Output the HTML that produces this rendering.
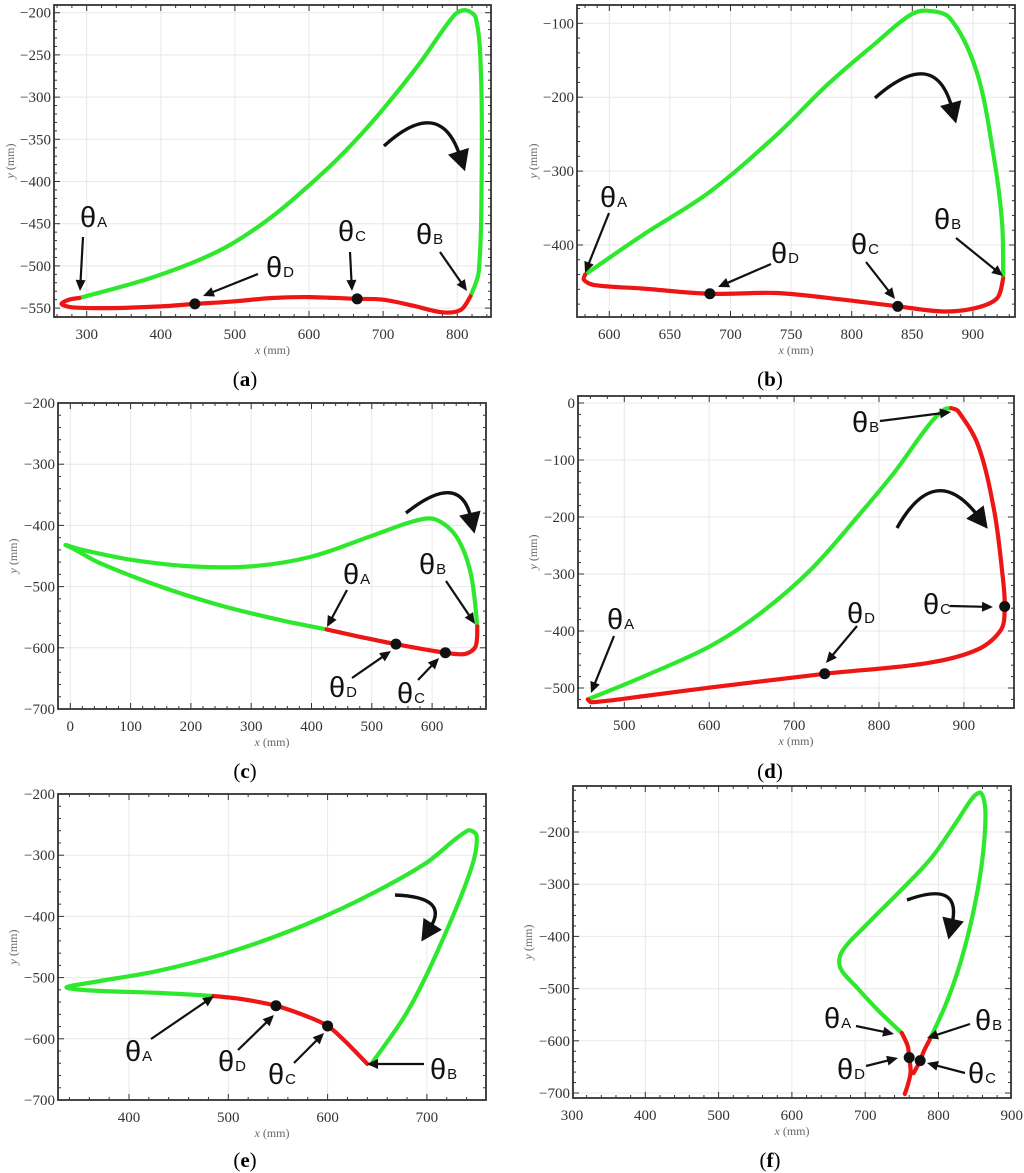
<!DOCTYPE html>
<html><head><meta charset="utf-8"><style>
html,body{margin:0;padding:0;background:#fff;}
svg{display:block;}
.tick{font-family:"Liberation Serif",serif;font-size:15px;fill:#333;}
.atitle{font-family:"Liberation Serif",serif;font-size:12px;fill:#666;}
.cap{font-family:"Liberation Serif",serif;font-size:21px;fill:#000;}
.th{font-family:"Liberation Sans",sans-serif;font-size:29px;fill:#111;}
.sub{font-family:"Liberation Sans",sans-serif;font-size:15px;fill:#111;}
</style></head><body>
<svg id="fig" width="1024" height="1173" viewBox="0 0 1024 1173" xmlns="http://www.w3.org/2000/svg"></svg>
<script>
// ---- Panel (a) data ----
const aGreenX=[290,391,481,548,616,661,705,751,796,811,825,832,833,829,818];
const aGreenY=[-538,-513,-481,-443,-392,-353,-309,-258,-203,-197,-206,-270,-388,-507,-536];
const aRedX=[818,805,780,740,700,665,600,550,500,446,400,330,280,266,276,290];
const aRedY=[-536,-552,-555,-547,-540,-539,-537,-538,-542,-545,-548,-550,-549,-545,-540,-538];
const aDotX=[446,665]; const aDotY=[-545,-539];
const aXTicks=[300,400,500,600,700,800];
const aYTicks=[-200,-250,-300,-350,-400,-450,-500,-550];
// ---- Panel (b) data ----
const bGreenX=[580,628,683,738,780,821,848,862,881,903,917,924,925];
const bGreenY=[-440,-386,-328,-251,-183,-125,-89,-83,-93,-165,-278,-368,-443];
const bRedX=[925,920,903,876,838,793,738,683,628,587,579,580];
const bRedY=[-445,-472,-485,-490,-483,-474,-465,-466,-459,-454,-447,-440];
const bDotX=[683,838]; const bDotY=[-466,-483];
const bXTicks=[600,650,700,750,800,850,900];
const bYTicks=[-100,-200,-300,-400];
// ---- Panel (c) data ----
const cGreenX=[425,350,250,150,50,5,-8,20,100,200,300,400,500,570,605,640,664,675];
const cGreenY=[-570,-555,-531,-500,-462,-438,-432,-440,-456,-467,-467,-451,-417,-393,-390,-418,-478,-565];
const cRedX=[675,672,655,622,540,480,425];
const cRedY=[-565,-598,-610,-608,-594,-582,-570];
const cDotX=[540,622]; const cDotY=[-594,-608];
const cXTicks=[0,100,200,300,400,500,600];
const cYTicks=[-200,-300,-400,-500,-600,-700];
// ---- Panel (d) data ----
const dGreenX=[457,524,602,661,720,779,818,858,877,885];
const dGreenY=[-520,-479,-426,-368,-292,-192,-122,-40,-11,-9];
const dRedX=[885,893,917,936,946,948,944,917,858,736,602,524,461,457];
const dRedY=[-9,-14,-75,-192,-309,-356,-397,-432,-456,-475,-499,-514,-525,-520];
const dDotX=[736,948]; const dDotY=[-475,-357];
const dXTicks=[500,600,700,800,900];
const dYTicks=[0,-100,-200,-300,-400,-500];
// ---- Panel (e) data ----
const eGreenX=[485,429,362,337,362,429,496,563,631,698,741,750,745,714,681,644];
const eGreenY=[-530,-525,-521,-516,-508,-489,-461,-423,-374,-314,-260,-268,-320,-445,-554,-641];
const eRedX=[640,617,600,577,548,513,485];
const eRedY=[-641,-603,-579,-562,-546,-535,-530];
const eDotX=[548,600]; const eDotY=[-546,-579];
const eXTicks=[400,500,600,700];
const eYTicks=[-200,-300,-400,-500,-600,-700];
// ---- Panel (f) data ----
const fGreenX=[788,810,830,848,860,864,858,848,825,790,750,700,668,666,690,720,750];
const fGreenY=[-598,-530,-450,-350,-250,-160,-125,-132,-180,-250,-310,-380,-430,-460,-500,-545,-585];
const fRed1X=[750,758,760,762,758,754];
const fRed1Y=[-585,-610,-632,-660,-685,-702];
const fRed2X=[788,780,775,766];
const fRed2Y=[-598,-620,-638,-662];
const fDotX=[760,775]; const fDotY=[-632,-638];
const fXTicks=[300,400,500,600,700,800,900];
const fYTicks=[-200,-300,-400,-500,-600,-700];

const NS="http://www.w3.org/2000/svg";
const svg=document.getElementById('fig');
function mk(tag,attrs,parent){const e=document.createElementNS(NS,tag);for(const k in attrs)e.setAttribute(k,attrs[k]);(parent||svg).appendChild(e);return e;}
function fmt(v){return v<0?"\u2212"+(-v):String(v);}
function dist(a,b){return Math.hypot(a[0]-b[0],a[1]-b[1])||1e-6;}
function smooth(pts){
  let d="M"+pts[0][0].toFixed(1)+","+pts[0][1].toFixed(1);
  for(let i=0;i<pts.length-1;i++){
    const p0=pts[Math.max(0,i-1)],p1=pts[i],p2=pts[i+1],p3=pts[Math.min(pts.length-1,i+2)];
    const d01=dist(p0,p1),d12=dist(p1,p2),d23=dist(p2,p3);
    const s1=i==0?0.5:d12/(d01+d12), s2=(i+2>pts.length-1)?0.5:d12/(d12+d23);
    const c1=[p1[0]+(p2[0]-p0[0])*s1/3,p1[1]+(p2[1]-p0[1])*s1/3];
    const c2=[p2[0]-(p3[0]-p1[0])*s2/3,p2[1]-(p3[1]-p1[1])*s2/3];
    d+=" C"+c1[0].toFixed(1)+","+c1[1].toFixed(1)+" "+c2[0].toFixed(1)+","+c2[1].toFixed(1)+" "+p2[0].toFixed(1)+","+p2[1].toFixed(1);
  }
  return d;
}
function head(g,x,y,ang,len,w){
  const bx=x-Math.cos(ang)*len,by=y-Math.sin(ang)*len;
  const nx=-Math.sin(ang)*w,ny=Math.cos(ang)*w;
  return mk('polygon',{points:`${x},${y} ${bx+nx},${by+ny} ${bx-nx},${by-ny}`,fill:'#111'},g);
}
function arrow(g,x1,y1,x2,y2){
  const ang=Math.atan2(y2-y1,x2-x1);
  const l=mk('line',{x1:x1,y1:y1,x2:x2-Math.cos(ang)*8,y2:y2-Math.sin(ang)*8,stroke:'#111','stroke-width':2.2},g);
  
  
  head(g,x2,y2,ang,11,5);
}
function label(g,x,y,s){
  const t=mk('text',{x:x,y:y,class:'th'},g);
  
  
  t.textContent="\u03B8";
  const ts=mk('tspan',{class:'sub',dx:1},t);ts.textContent=s;
}
function panel(p){
  const g=mk('g',{});
  
  
  const sx=v=>p.x0px+(v-p.x0v)*p.kx;
  const sy=v=>p.y0px-(v-p.y0v)*p.ky;
  const F=p.frame;
  p.xt.forEach(v=>{const l=mk('line',{x1:sx(v),x2:sx(v),y1:F[1],y2:F[3],stroke:'#e8e8e8','stroke-width':1},g);});
  p.yt.forEach(v=>{const l=mk('line',{y1:sy(v),y2:sy(v),x1:F[0],x2:F[2],stroke:'#e8e8e8','stroke-width':1},g);});
  const dx=p.xt[1]-p.xt[0], dy=p.yt[1]-p.yt[0];
  for(let v=p.xt[0]-dx;v<=p.xt[p.xt.length-1]+dx;v+=dx/5){
    const X=sx(v); if(X<F[0]||X>F[2])continue;
    const major=p.xt.some(t=>Math.abs(t-v)<1e-6); const L=major?6:3;
    mk('line',{x1:X,x2:X,y1:F[3],y2:F[3]-L,stroke:'#333','stroke-width':1},g);
    mk('line',{x1:X,x2:X,y1:F[1],y2:F[1]+L,stroke:'#333','stroke-width':1},g);
  }
  for(let v=p.yt[0]-dy;(dy<0?v>=p.yt[p.yt.length-1]+dy:v<=p.yt[p.yt.length-1]+dy);v+=dy/5){
    const Y=sy(v); if(Y<F[1]||Y>F[3])continue;
    const major=p.yt.some(t=>Math.abs(t-v)<1e-6); const L=major?6:3;
    mk('line',{y1:Y,y2:Y,x1:F[0],x2:F[0]+L,stroke:'#333','stroke-width':1},g);
    mk('line',{y1:Y,y2:Y,x1:F[2],x2:F[2]-L,stroke:'#333','stroke-width':1},g);
  }
  p.xt.forEach(v=>{const t=mk('text',{x:sx(v),y:F[3]+22,'text-anchor':'middle',class:'tick'},g);t.textContent=v;});
  p.yt.forEach(v=>{const t=mk('text',{x:F[0]-3,y:sy(v)+5,'text-anchor':'end',class:'tick'},g);t.textContent=fmt(v);});
  const fr=mk('rect',{x:F[0],y:F[1],width:F[2]-F[0],height:F[3]-F[1],fill:'none',stroke:'#333','stroke-width':1.8},g);
  
  const xt=mk('text',{x:(F[0]+F[2])/2,y:F[3]+37,'text-anchor':'middle',class:'atitle'},g);
  
  xt.innerHTML='<tspan font-style="italic">x</tspan> (mm)';
  const ycx=p.ytx, ycy=(F[1]+F[3])/2;
  const yt=mk('text',{x:ycx,y:ycy,'text-anchor':'middle',class:'atitle',transform:`rotate(-90 ${ycx} ${ycy})`},g);
  
  yt.innerHTML='<tspan font-style="italic">y</tspan> (mm)';
  p.segs.forEach(s=>{
    const pts=s.x.map((v,i)=>[sx(v),sy(s.y[i])]);
    const path=mk('path',{d:smooth(pts),fill:'none',stroke:s.c,'stroke-width':4.2,'stroke-linecap':'round','stroke-linejoin':'round'},g);
    
    
  });
  p.dx.forEach((v,i)=>{const c=mk('circle',{cx:sx(v),cy:sy(p.dy[i]),r:5.5,fill:'#111'},g);});
  p.labels.forEach(l=>label(g,l[0],l[1],l[2]));
  p.arrows.forEach(a=>arrow(g,a[0],a[1],a[2],a[3]));
  const c=p.curl;
  const cp=mk('path',{d:`M${c[0]},${c[1]} Q${c[2]},${c[3]} ${c[4]},${c[5]}`,fill:'none',stroke:'#111','stroke-width':3.4},g);
  
  const ang=Math.atan2(c[5]-c[3],c[4]-c[2]);
  head(g,c[4]+Math.cos(ang)*16,c[5]+Math.sin(ang)*16,ang,21,11);
  const cap=mk('text',{x:p.capx,y:p.capy,'text-anchor':'middle',class:'cap'},g);
  
  cap.innerHTML='(<tspan font-weight="bold">'+p.id+'</tspan>)';
}
const G='#2ee82e', R='#ee1515';
panel({id:'a',frame:[54,5,491,317],x0px:86.7,x0v:300,kx:0.741,y0px:12.7,y0v:-200,ky:0.844,xt:aXTicks,yt:aYTicks,ytx:14,
  segs:[{x:aGreenX,y:aGreenY,c:G,name:'green-segment'},{x:aRedX,y:aRedY,c:R,name:'red-segment'}],dx:aDotX,dy:aDotY,
  labels:[[80,227,'A'],[266,277,'D'],[338,241,'C'],[416,244,'B']],
  arrows:[[83,237,80,291],[258,274,203,296],[350,252,352,291],[440,252,467,291]],
  curl:[384,146,440,95,460,156],capx:245,capy:386});
panel({id:'b',frame:[577,5,1015,317],x0px:609.3,x0v:600,kx:1.212,y0px:23.3,y0v:-100,ky:0.739,xt:bXTicks,yt:bYTicks,ytx:537,
  segs:[{x:bGreenX,y:bGreenY,c:G,name:'green-segment'},{x:bRedX,y:bRedY,c:R,name:'red-segment'}],dx:bDotX,dy:bDotY,
  labels:[[600,207,'A'],[771,263,'D'],[851,254,'C'],[934,229,'B']],
  arrows:[[609,213,585,273],[771,264,718,287],[866,262,895,299],[956,238,1003,276]],
  curl:[875,98,935,45,952,108],capx:770,capy:386});
panel({id:'c',frame:[58,403,486,709],x0px:70.3,x0v:0,kx:0.603,y0px:403,y0v:-200,ky:0.612,xt:cXTicks,yt:cYTicks,ytx:17,
  segs:[{x:cGreenX,y:cGreenY,c:G,name:'green-segment'},{x:cRedX,y:cRedY,c:R,name:'red-segment'}],dx:cDotX,dy:cDotY,
  labels:[[343,584,'A'],[419,574,'B'],[329,697,'D'],[397,703,'C']],
  arrows:[[347,590,327,627],[446,581,475,624],[352,678,391,651],[418,680,439,658]],
  curl:[406,513,460,470,471,518],capx:245,capy:778});
panel({id:'d',frame:[578,396,1014,708],x0px:624.3,x0v:500,kx:0.849,y0px:403,y0v:0,ky:0.57,xt:dXTicks,yt:dYTicks,ytx:537,
  segs:[{x:dGreenX,y:dGreenY,c:G,name:'green-segment'},{x:dRedX,y:dRedY,c:R,name:'red-segment'}],dx:dDotX,dy:dDotY,
  labels:[[852,432,'B'],[923,614,'C'],[847,623,'D'],[607,629,'A']],
  arrows:[[880,421,951,412],[950,606,993,607],[857,626,826,663],[614,636,591,693]],
  curl:[897,528,935,460,978,516],capx:770,capy:778});
panel({id:'e',frame:[58,794,486,1100],x0px:129,x0v:400,kx:0.993,y0px:794,y0v:-200,ky:0.612,xt:eXTicks,yt:eYTicks,ytx:17,
  segs:[{x:eGreenX,y:eGreenY,c:G,name:'green-segment'},{x:eRedX,y:eRedY,c:R,name:'red-segment'}],dx:eDotX,dy:eDotY,
  labels:[[125,1061,'A'],[218,1071,'D'],[268,1084,'C'],[430,1079,'B']],
  arrows:[[151,1039,214,996],[238,1050,274,1015],[294,1063,324,1033],[424,1064,367,1064]],
  curl:[395,895,450,897,430,928],capx:245,capy:1167});
panel({id:'f',frame:[573,786,1011,1098],x0px:572,x0v:300,kx:0.733,y0px:832,y0v:-200,ky:0.522,xt:fXTicks,yt:fYTicks,ytx:532,
  segs:[{x:fGreenX,y:fGreenY,c:G,name:'green-segment'},{x:fRed1X,y:fRed1Y,c:R,name:'red-segment-left'},{x:fRed2X,y:fRed2Y,c:R,name:'red-segment-right'}],dx:fDotX,dy:fDotY,
  labels:[[824,1028,'A'],[975,1030,'B'],[837,1079,'D'],[968,1083,'C']],
  arrows:[[856,1026,894,1034],[970,1024,927,1038],[866,1066,898,1058],[965,1073,927,1063]],
  curl:[907,900,962,880,952,924],capx:770,capy:1167});
</script>
</body></html>
